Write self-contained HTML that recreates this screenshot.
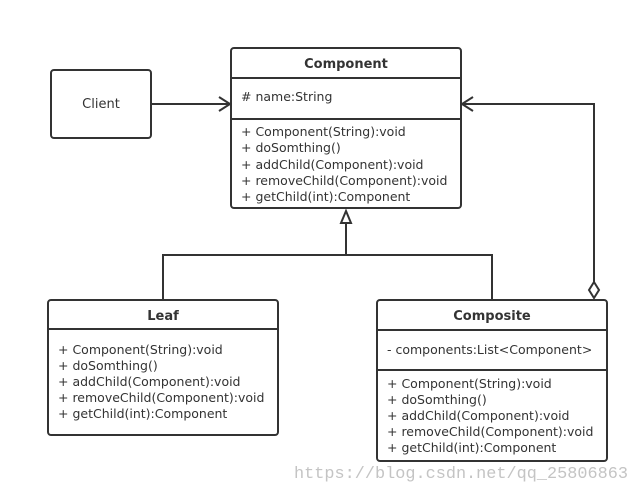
<!DOCTYPE html>
<html><head><style>html,body{margin:0;padding:0;background:#fff}svg{display:block}</style></head><body>
<svg width="639" height="493" viewBox="0 0 639 493" xmlns="http://www.w3.org/2000/svg" font-family="'DejaVu Sans','Liberation Sans',sans-serif" font-size="12.5" fill="#333">
<g stroke="#333" stroke-width="2" fill="none">
<rect x="51" y="70" width="100" height="68" rx="3" fill="#fff"/>
<rect x="231" y="48" width="230" height="160" rx="3" fill="#fff"/>
<line x1="231" y1="78" x2="461" y2="78"/>
<line x1="231" y1="119" x2="461" y2="119"/>
<rect x="48" y="300" width="230" height="135" rx="3" fill="#fff"/>
<line x1="48" y1="329" x2="278" y2="329"/>
<rect x="377" y="300" width="230" height="161" rx="3" fill="#fff"/>
<line x1="377" y1="330" x2="607" y2="330"/>
<line x1="377" y1="370" x2="607" y2="370"/>
<line x1="151" y1="104" x2="230" y2="104"/>
<polyline points="219,97 230,104 219,111"/>
<polyline points="594,282 594,104 462,104"/>
<polyline points="473,97 462,104 473,111"/>
<polygon points="594,282 599,290 594,298 589,290" fill="#fff"/>
<polyline points="163,300 163,255 492,255 492,300"/>
<line x1="346" y1="255" x2="346" y2="223"/>
<polygon points="346,211 341,223 351,223" fill="#fff"/>
</g>
<text x="101" y="108" text-anchor="middle" font-size="13">Client</text>
<g font-weight="bold" text-anchor="middle" font-size="13">
<text x="346" y="68">Component</text>
<text x="163" y="320">Leaf</text>
<text x="492" y="320">Composite</text>
</g>
<text x="241" y="101"># name:String</text>
<g>
<text x="241" y="136">+ Component(String):void</text>
<text x="241" y="152">+ doSomthing()</text>
<text x="241" y="169">+ addChild(Component):void</text>
<text x="241" y="185">+ removeChild(Component):void</text>
<text x="241" y="201">+ getChild(int):Component</text>
<text x="58" y="354">+ Component(String):void</text>
<text x="58" y="370">+ doSomthing()</text>
<text x="58" y="386">+ addChild(Component):void</text>
<text x="58" y="402">+ removeChild(Component):void</text>
<text x="58" y="418">+ getChild(int):Component</text>
<text x="387" y="354">- components:List&lt;Component&gt;</text>
<text x="387" y="388">+ Component(String):void</text>
<text x="387" y="404">+ doSomthing()</text>
<text x="387" y="420">+ addChild(Component):void</text>
<text x="387" y="436">+ removeChild(Component):void</text>
<text x="387" y="452">+ getChild(int):Component</text>
</g>
<text x="628" y="478" text-anchor="end" font-family="'Liberation Mono',monospace" font-size="17" fill="#c4c4c4" textLength="334" lengthAdjust="spacingAndGlyphs">https://blog.csdn.net/qq_25806863</text>
</svg>
</body></html>
